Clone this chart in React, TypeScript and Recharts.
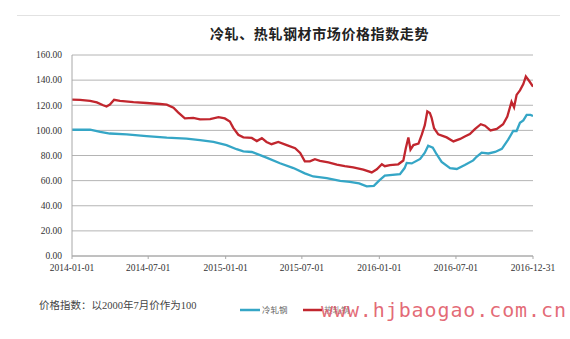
import React from 'react';
import { LineChart, Line, XAxis, YAxis, CartesianGrid, Legend } from 'recharts';

const hotDates = [
  '2014-01-01','2014-01-20','2014-02-13','2014-03-01','2014-03-16','2014-03-24','2014-04-01','2014-04-11','2014-04-25','2014-05-27',
  '2014-06-27','2014-07-29','2014-08-14','2014-08-30','2014-09-10','2014-09-26','2014-10-16','2014-11-01','2014-11-25','2014-12-15',
  '2014-12-30','2015-01-11','2015-01-19','2015-01-31','2015-02-12','2015-03-04','2015-03-16','2015-03-28','2015-04-08','2015-04-20',
  '2015-05-06','2015-05-26','2015-06-15','2015-06-27','2015-07-08','2015-07-20','2015-08-01','2015-08-13','2015-09-02','2015-09-22',
  '2015-10-11','2015-10-31','2015-11-24','2015-12-14','2015-12-26','2016-01-07','2016-01-14','2016-01-26','2016-02-15','2016-02-27',
  '2016-03-04','2016-03-10','2016-03-15','2016-03-22','2016-04-03','2016-04-11','2016-04-18','2016-04-24','2016-04-30','2016-05-04',
  '2016-05-10','2016-05-20','2016-06-09','2016-06-25','2016-07-11','2016-07-22','2016-08-03','2016-08-15','2016-08-29','2016-09-08',
  '2016-09-21','2016-10-06','2016-10-21','2016-10-31','2016-11-10','2016-11-16','2016-11-22','2016-11-30','2016-12-08','2016-12-14',
  '2016-12-22','2016-12-31',
];
const hotValues = [
  124.5,124.2,123.5,122.3,120,119,120.5,124.3,123.5,122.5,
  121.8,121,120.5,118,114.3,109.5,110,108.8,109,110.5,
  109.5,107,102,96.5,94.5,94,91.5,93.8,90.8,89,
  90.8,88.3,85.8,82,75.3,75.3,77,75.8,74.5,72.8,
  71.5,70.5,68.8,66.5,69,73,71.5,72.4,73,76,
  85.9,94.4,84.6,88.3,89.5,96.8,104.1,115.1,113.9,110.2,
  101.7,96.8,94.4,91.2,93.2,95.1,97,101,104.9,103.7,
  100,101.2,104.9,111,122.8,118.4,128.2,131.9,136.8,142.9,
  139.3,134.8,
];

const coldDates = [
  '2014-01-01','2014-02-13','2014-03-09','2014-04-01','2014-05-11','2014-06-27','2014-08-14','2014-09-30','2014-11-01','2014-12-03',
  '2015-01-03','2015-01-27','2015-02-12','2015-03-04','2015-04-08','2015-05-10','2015-06-11','2015-07-08','2015-07-28','2015-08-29',
  '2015-09-30','2015-10-23','2015-11-14','2015-12-02','2015-12-19','2016-01-01','2016-01-14','2016-02-19','2016-03-01','2016-03-06',
  '2016-03-18','2016-04-07','2016-04-18','2016-04-26','2016-05-07','2016-05-16','2016-05-28','2016-06-17','2016-07-03','2016-07-22',
  '2016-08-11','2016-08-19','2016-08-31','2016-09-16','2016-10-02','2016-10-18','2016-11-02','2016-11-14','2016-11-22','2016-11-30',
  '2016-12-08','2016-12-16','2016-12-25','2016-12-31',
];
const coldValues = [
  100.5,100.5,98.8,97.5,96.8,95.5,94.3,93.5,92.2,90.8,
  88.3,85,83.3,82.8,78.3,73.8,70,65.8,63.3,62,
  59.8,59,57.8,55.4,55.9,60.2,63.9,65.1,70,74.1,
  73.7,77.3,82.2,87.8,86.3,81,74.9,70,69.3,72.4,
  76.1,79,82.3,81.6,82.8,85.3,92.6,99.5,99.5,106.1,
  107.9,112.3,112.3,111.5,
];

const xTickLabels = ['2014-01-01','2014-07-01','2015-01-01','2015-07-01','2016-01-01','2016-07-01','2016-12-31'];
const yTicks = [0, 20, 40, 60, 80, 100, 120, 140, 160];

const coldName = '冷轧钢';
const hotName = '热轧钢';
const titleText = '冷轧、热轧钢材市场价格指数走势';
const noteText = '价格指数：以2000年7月价作为100';
const watermarkText = 'www.hjbaogao.com.cn';

const COLD = '#35a6c6';
const HOT = '#c1262e';

const base = Date.UTC(2014, 0, 1);
const toDay = (s: string) => {
  const [y, m, d] = s.split('-').map(Number);
  return Math.round((Date.UTC(y, m - 1, d) - base) / 86400000);
};

const hotData = hotDates.map((d, i) => ({ day: toDay(d), v: hotValues[i] }));
const coldData = coldDates.map((d, i) => ({ day: toDay(d), v: coldValues[i] }));
const xTicks = xTickLabels.map(toDay);
const tickLabelOf = (v: number) => {
  const i = xTicks.indexOf(v);
  return i >= 0 ? xTickLabels[i] : '';
};

const serif = '"Liberation Serif", "Noto Sans CJK SC", serif';
const cjk = '"Liberation Serif", "Noto Sans CJK SC", sans-serif';

const LegendContent = () => (
  <div style={{ position: 'relative', width: 130, height: 16 }}>
    <svg width={130} height={16} style={{ position: 'absolute', left: 0, top: 0 }}>
      <line x1={2} y1={8} x2={22} y2={8} stroke={COLD} strokeWidth={2.5} />
      <text x={24} y={11} fontSize={8.5} fill="#666" fontFamily={cjk}>{coldName}</text>
      <line x1={65} y1={8} x2={84} y2={8} stroke={HOT} strokeWidth={2.5} />
      <text x={86} y={11} fontSize={8.5} fill="#888" fontFamily={cjk}>{hotName}</text>
    </svg>
  </div>
);

export default function App() {
  return (
    <div style={{ position: 'absolute', left: 0, top: 0, width: 570, height: 339, background: '#fff', overflow: 'hidden' }}>
      <div style={{ position: 'absolute', left: 17, top: 15, width: 543, height: 1, background: '#e2e2e2' }} />
      <div
        style={{
          position: 'absolute', left: 210, top: 24, fontSize: 14, fontWeight: 'bold', letterSpacing: 0.6,
          fontFamily: '"Noto Sans CJK SC", sans-serif', color: '#222', whiteSpace: 'nowrap', lineHeight: '18px',
        }}
      >
        {titleText}
      </div>
      <LineChart width={570} height={339} margin={{ top: 55, right: 37, left: 12, bottom: 37 }}>
        <CartesianGrid vertical={false} stroke="#b4b4b4" strokeWidth={1} />
        <XAxis
          dataKey="day"
          type="number"
          domain={[0, 1095]}
          ticks={xTicks}
          tickFormatter={tickLabelOf}
          height={30}
          stroke="#a8a8a8"
          tickSize={3}
          tickMargin={5}
          interval={0}
          tick={{ fontSize: 9.5, fill: '#333', fontFamily: serif }}
          allowDataOverflow
        />
        <YAxis
          type="number"
          domain={[0, 160]}
          ticks={yTicks}
          tickFormatter={(v: number) => v.toFixed(2)}
          width={60}
          stroke="#a8a8a8"
          tickLine={false}
          tickSize={0}
          tickMargin={10}
          interval={0}
          tick={{ fontSize: 9.5, fill: '#333', fontFamily: serif }}
        />
        <Legend
          content={<LegendContent />}
          wrapperStyle={{ position: 'absolute', left: 238, top: 302, width: 130, height: 16 }}
        />
        <Line data={coldData} dataKey="v" name={coldName} stroke={COLD} strokeWidth={2.3} dot={false} isAnimationActive={false} />
        <Line data={hotData} dataKey="v" name={hotName} stroke={HOT} strokeWidth={2.3} dot={false} isAnimationActive={false} />
      </LineChart>
      <div
        style={{
          position: 'absolute', left: 39, top: 299, fontSize: 10.5, fontFamily: cjk, color: '#444',
          whiteSpace: 'nowrap', lineHeight: '14px',
        }}
      >
        {noteText}
      </div>
      <div
        style={{
          position: 'absolute', left: 321, top: 298, fontSize: 20, letterSpacing: 0.9,
          fontFamily: '"DejaVu Sans Mono", monospace', color: 'rgba(222, 80, 94, 0.85)',
          whiteSpace: 'nowrap', lineHeight: '24px',
        }}
      >
        {watermarkText}
      </div>
    </div>
  );
}
